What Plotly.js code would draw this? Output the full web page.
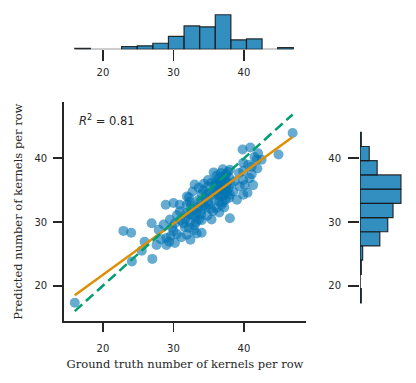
<!DOCTYPE html>
<html>
<head>
<meta charset="utf-8">
<script src="https://cdn.plot.ly/plotly-3.0.1.min.js"></script>
<style>html,body{margin:0;padding:0;background:#fff;}#chart{width:416px;height:383px;}</style>
</head>
<body>
<div id="chart"></div>
<script>
// Ground-truth kernels per row (x) and predicted kernels per row (y)
const truthKernels = [
  16.0,
  22.9, 24.0, 24.1,
  27.0, 25.5, 25.9, 26.9,
  27.6, 29.0, 29.0, 28.2, 27.9, 28.6, 28.9,
  30.2, 29.6, 30.5, 29.4, 31.1, 30.0, 30.2, 31.4, 29.8, 31.0, 29.5, 30.9, 30.9, 30.5, 30.0,
  31.9, 32.4, 33.3, 33.0, 31.7, 32.4, 31.6, 32.9, 33.6, 32.2, 33.2, 31.9, 32.1, 33.0, 32.8, 33.3, 31.8, 32.5, 32.6, 33.5, 32.7, 32.3, 33.5, 32.2, 31.9, 33.0, 33.6,
  34.0, 34.0, 35.4, 34.0, 35.6, 34.6, 35.3, 33.9, 34.8, 35.0, 34.3, 34.7, 35.6, 34.9, 33.8, 34.2, 34.5, 35.1, 35.8, 34.0, 34.9, 34.9, 35.9, 35.4, 34.3, 35.7,
  38.0, 36.1, 36.5, 37.2, 36.8, 38.0, 37.1, 36.2, 36.8, 37.4, 36.5, 37.9, 36.0, 37.2, 36.4, 37.6, 37.0, 36.1, 37.1, 37.8, 36.3, 36.6, 36.9, 37.3, 36.4, 37.6, 38.1, 36.0, 37.0, 37.5, 36.7, 37.9, 36.2, 36.8, 37.4, 37.5, 38.0, 36.7, 37.0, 37.7,
  38.5, 39.0, 39.9, 39.9, 40.1, 38.7, 39.4, 39.9, 39.9, 39.3, 39.8,
  40.5, 41.3, 40.8, 41.1, 41.1, 40.6, 41.9, 41.8, 40.9, 42.0, 42.5, 41.5,
  44.9, 46.9
];
const predictedKernels = [
  17.3,
  28.6, 28.3, 23.8,
  24.2, 25.5, 26.9, 29.8,
  26.4, 26.4, 27.5, 27.3, 28.8, 29.6, 32.7,
  26.7, 27.8, 28.1, 26.9, 27.6, 28.6, 29.8, 29.8, 29.2, 30.3, 30.4, 31.7, 32.7, 31.1, 33.0,
  28.0, 27.2, 28.2, 29.5, 30.5, 30.0, 29.2, 28.7, 30.4, 29.1, 30.0, 32.7, 31.1, 30.9, 32.0, 31.5, 31.4, 32.6, 31.3, 32.3, 34.8, 33.2, 33.4, 33.9, 34.0, 35.9, 35.4,
  28.3, 30.3, 30.4, 31.9, 31.7, 32.4, 32.1, 31.2, 31.0, 32.8, 32.6, 34.3, 34.3, 33.2, 33.2, 35.0, 33.8, 34.6, 33.5, 34.4, 36.6, 35.6, 35.8, 36.2, 36.0, 37.8,
  30.6, 32.2, 31.5, 32.3, 32.7, 34.3, 34.3, 34.6, 34.0, 33.5, 33.2, 33.8, 35.0, 35.0, 34.2, 34.7, 33.1, 37.3, 36.6, 35.3, 35.4, 36.1, 35.7, 36.9, 36.8, 36.3, 36.0, 36.3, 35.3, 35.9, 35.3, 37.0, 35.9, 37.1, 35.5, 37.5, 38.2, 37.7, 38.3, 37.9,
  34.8, 33.5, 34.3, 36.6, 35.8, 36.4, 35.6, 38.0, 39.3, 37.7, 41.4,
  34.6, 35.8, 36.9, 37.5, 38.7, 39.0, 38.4, 39.8, 41.7, 40.8, 39.8, 40.2,
  40.6, 44.0
];
// Linear fit
const fitSlope = 0.805;
const fitIntercept = 5.6;
const r2Label = "<i>R</i><sup>2</sup> = 0.81";
// Histogram bins (matplotlib style: data min to max)
const xBinStart = 16.0, xBinEnd = 47.0, xBinCount = 14;
const yBinStart = 17.3, yBinEnd = 44.1, yBinCount = 12;
const tickValues = [20, 30, 40];
const axisRange = [14.47, 48.8];
const xTitle = "Ground truth number of kernels per row";
const yTitle = "Predicted number of kernels per row";

const W = 416, H = 383;
const minX = Math.min(...truthKernels), maxX = Math.max(...truthKernels);
const ink = '#262626';
const blue = 'rgba(1,115,178,0.6)';
const barFill = 'rgba(1,115,178,0.8)';
const barEdge = 'rgba(25,25,25,0.9)';

const traces = [
  {type: 'scatter', mode: 'markers', x: truthKernels, y: predictedKernels, xaxis: 'x', yaxis: 'y',
   marker: {size: 10, color: blue, line: {width: 0}}, hoverinfo: 'skip'},
  {type: 'scatter', mode: 'lines', x: [minX, maxX], y: [fitSlope*minX + fitIntercept, fitSlope*maxX + fitIntercept],
   xaxis: 'x', yaxis: 'y', line: {color: '#de8f05', width: 2.5}, hoverinfo: 'skip'},
  {type: 'scatter', mode: 'lines', x: [minX, maxX], y: [minX, maxX],
   xaxis: 'x', yaxis: 'y', line: {color: '#029e73', width: 2.5, dash: '10px,5px'}, hoverinfo: 'skip'},
  {type: 'histogram', x: truthKernels, xaxis: 'x2', yaxis: 'y2', autobinx: false,
   xbins: {start: xBinStart, end: xBinEnd, size: (xBinEnd - xBinStart) / xBinCount},
   marker: {color: barFill, line: {color: barEdge, width: 1.2}}, hoverinfo: 'skip'},
  {type: 'histogram', y: predictedKernels, orientation: 'h', xaxis: 'x3', yaxis: 'y3', autobiny: false,
   ybins: {start: yBinStart, end: yBinEnd, size: (yBinEnd - yBinStart) / yBinCount},
   marker: {color: barFill, line: {color: barEdge, width: 1.2}}, hoverinfo: 'skip'}
];

const tickFont = {family: 'DejaVu Sans', size: 10, color: ink};
const titleFont = {family: 'DejaVu Serif', size: 11.5, color: ink};
const mainDomX = [64/W, 306/W];
const mainDomY = [(H-320.8)/H, (H-102.4)/H];

const baseAxis = {showgrid: false, zeroline: false, ticks: 'outside', tickcolor: ink, tickwidth: 1.8,
  tickvals: tickValues, tickfont: tickFont};

const layout = {
  width: W, height: H, margin: {l: 0, r: 0, t: 0, b: 0},
  paper_bgcolor: '#fff', plot_bgcolor: 'rgba(0,0,0,0)', showlegend: false, bargap: 0,
  xaxis: Object.assign({}, baseAxis, {domain: mainDomX, range: axisRange, anchor: 'y', showline: true,
    linecolor: ink, linewidth: 1.8, ticklen: 9, ticklabelstandoff: 8,
    title: {text: xTitle, font: titleFont, standoff: 7}}),
  yaxis: Object.assign({}, baseAxis, {domain: mainDomY, range: axisRange, anchor: 'x', showline: true,
    linecolor: ink, linewidth: 1.8, ticklen: 9, ticklabelstandoff: 4,
    title: {text: yTitle, font: titleFont, standoff: 9}}),
  xaxis2: Object.assign({}, baseAxis, {domain: mainDomX, range: axisRange, anchor: 'y2', showline: false,
    ticklen: 11, ticklabelstandoff: 3}),
  yaxis2: {domain: [(H-49.3)/H, (H-13)/H], range: [0, 42], anchor: 'x2', visible: false},
  xaxis3: {domain: [360/W, 403/W], range: [0, 32.55], anchor: 'y3', visible: false},
  yaxis3: Object.assign({}, baseAxis, {domain: mainDomY, range: axisRange, anchor: 'x3', showline: false,
    ticklen: 11, ticklabelstandoff: 5}),
  shapes: [
    {type: 'line', xref: 'x2', yref: 'y2', x0: xBinStart, x1: xBinEnd, y0: 0, y1: 0, layer: 'below',
     line: {color: '#3a3a3a', width: 1.2}},
    {type: 'line', xref: 'x3', yref: 'y3', x0: 0, x1: 0, y0: yBinStart, y1: yBinEnd, layer: 'below',
     line: {color: '#2a2a2a', width: 1.6}}
  ],
  annotations: [
    {text: r2Label, xref: 'paper', yref: 'paper', x: 77/W, y: (H-120)/H, xanchor: 'left', yanchor: 'middle',
     showarrow: false, font: {family: 'DejaVu Sans', size: 11.5, color: ink}}
  ]
};

Plotly.newPlot('chart', traces, layout, {displayModeBar: false, staticPlot: true});
</script>
</body>
</html>
